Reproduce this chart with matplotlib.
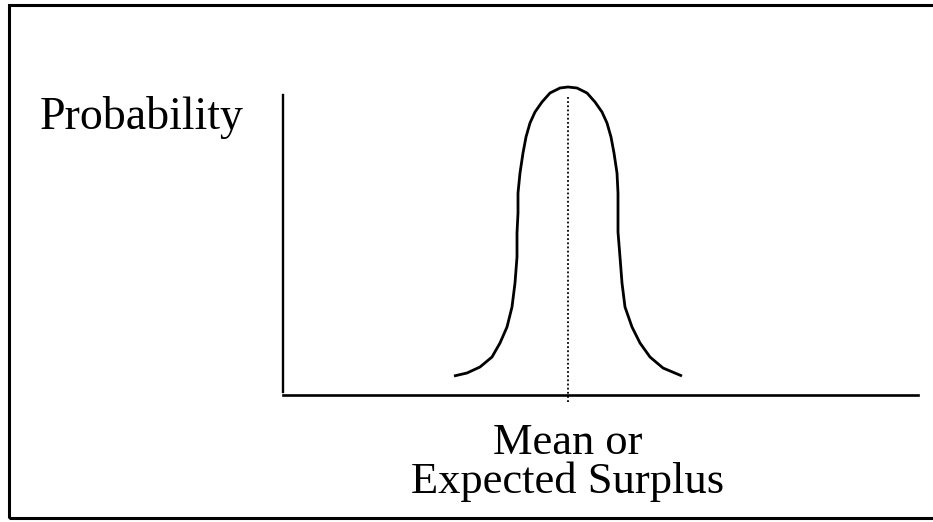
import matplotlib
matplotlib.use('Agg')
import matplotlib.pyplot as plt
import matplotlib.patches as mpatches

# surplus (offset from the mean) and probability
surplus = [-11.4, -10.1, -8.8, -7.6, -6.8, -6.1, -5.6, -5.3, -5.1, -5.1, -5.0,
           -5.0, -4.8, -4.5, -4.2, -3.8, -3.3, -2.6, -1.8, -0.8, 0.0,
           0.9, 1.9, 2.7, 3.4, 3.9, 4.3, 4.6, 4.9, 5.0,
           5.0, 5.0, 5.2, 5.4, 5.7, 6.4, 7.2, 8.2, 9.5, 11.4]
probability = [0.019, 0.022, 0.028, 0.038, 0.052, 0.068, 0.088, 0.112, 0.138, 0.162, 0.182,
               0.202, 0.222, 0.242, 0.258, 0.272, 0.283, 0.293, 0.302, 0.307, 0.308,
               0.307, 0.302, 0.293, 0.283, 0.272, 0.258, 0.242, 0.222, 0.202,
               0.182, 0.163, 0.138, 0.112, 0.088, 0.068, 0.052, 0.038, 0.027, 0.019]
mean_surplus = 0.0

y_label = 'Probability'
x_label = 'Mean or\nExpected Surplus'

W, H = 933, 522
fig = plt.figure(figsize=(W / 100, H / 100), dpi=100)

# axes placed where the two axis lines sit (pixels)
ax = fig.add_axes([283 / W, (H - 395) / H, (918 - 283) / W, (395 - 95) / H])
ax.set_xlim(-28.5, 35.0)
ax.set_ylim(0, 0.300)

ax.plot(surplus, probability, color='black', linewidth=2.0, clip_on=False,
        solid_joinstyle='round', solid_capstyle='butt')
ax.axvline(mean_surplus, ymin=-0.023, ymax=0.993, color='black', linewidth=1.3,
           linestyle=(0, (1, 1.3)), clip_on=False)

for side in ['top', 'right']:
    ax.spines[side].set_visible(False)
ax.spines['left'].set_linewidth(1.7)
ax.spines['bottom'].set_linewidth(1.9)
ax.spines['left'].set_bounds(0.003, 0.300)
ax.set_xticks([])
ax.set_yticks([])

serif = ['Liberation Serif', 'DejaVu Serif']
fig.text(40 / W, 1 - 129 / H, y_label, family=serif, fontsize=33,
         ha='left', va='baseline')
ax.text(mean_surplus, -0.028, x_label, family=serif, fontsize=32,
        ha='center', va='top', linespacing=0.95, transform=ax.transData)

# outer frame
frame = mpatches.Rectangle((9 / W, 1 - 518 / H), (W + 5) / W, (518 - 5) / H,
                           transform=fig.transFigure, fill=False,
                           edgecolor='black', linewidth=2.2, clip_on=False)
fig.patches.append(frame)

fig.savefig('out.png', dpi=100)
